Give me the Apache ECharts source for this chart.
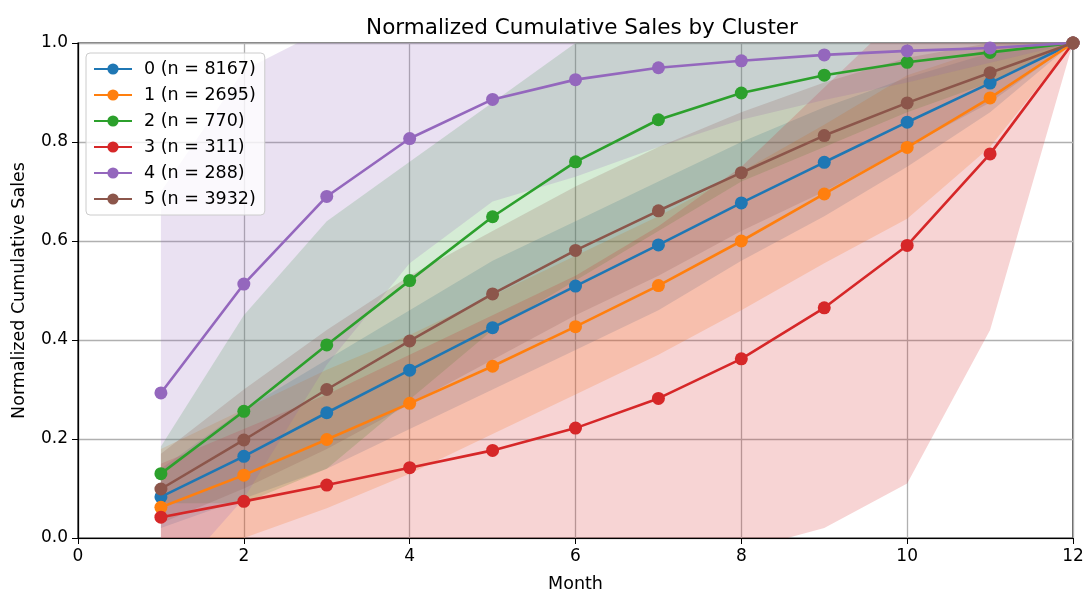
<!DOCTYPE html>
<html><head><meta charset="utf-8">
<script src="https://cdn.jsdelivr.net/npm/echarts@6/dist/echarts.min.js"></script>
<style>html,body{margin:0;padding:0;background:#fff}#c{width:1087px;height:593px}</style>
</head><body><div id="c"></div>
<script>
// ---- data ----
const months = [1,2,3,4,5,6,7,8,9,10,11,12];
const xTicks = [0,2,4,6,8,10,12];
const yTicks = ['0.0','0.2','0.4','0.6','0.8','1.0'];
const clusterNames = ['0 (n = 8167)','1 (n = 2695)','2 (n = 770)','3 (n = 311)','4 (n = 288)','5 (n = 3932)'];
const colors = ['#1f77b4','#ff7f0e','#2ca02c','#d62728','#9467bd','#8c564b'];

const mean0 = [0.083,0.165,0.253,0.339,0.425,0.509,0.592,0.677,0.759,0.840,0.919,1.0];
const mean1 = [0.062,0.127,0.199,0.272,0.347,0.427,0.510,0.600,0.695,0.789,0.889,1.0];
const mean2 = [0.130,0.256,0.390,0.520,0.649,0.760,0.845,0.899,0.935,0.961,0.981,1.0];
const mean3 = [0.042,0.074,0.107,0.142,0.177,0.222,0.282,0.362,0.465,0.591,0.776,1.0];
const mean4 = [0.293,0.513,0.690,0.807,0.886,0.926,0.950,0.964,0.976,0.984,0.990,1.0];
const mean5 = [0.099,0.198,0.300,0.398,0.493,0.581,0.661,0.738,0.813,0.879,0.940,1.0];

const lo0 = [0.02,0.08,0.14,0.22,0.30,0.38,0.46,0.56,0.65,0.75,0.86,1.0];
const hi0 = [0.14,0.26,0.36,0.46,0.56,0.64,0.72,0.80,0.87,0.93,0.98,1.0];
const lo1 = [-0.06,0.0,0.06,0.13,0.21,0.29,0.37,0.46,0.555,0.645,0.79,1.0];
const hi1 = [0.18,0.26,0.34,0.41,0.49,0.57,0.65,0.74,0.835,0.935,0.99,1.0];
const lo2 = [0.07,0.07,0.14,0.28,0.42,0.52,0.62,0.72,0.79,0.86,0.92,1.0];
const hi2 = [0.185,0.45,0.64,0.76,0.88,1.0,1.07,1.08,1.08,1.06,1.04,1.0];
const lo3 = [-0.06,-0.07,-0.08,-0.08,-0.09,-0.08,-0.07,-0.025,0.02,0.11,0.42,1.0];
const hi3 = [0.15,0.22,0.29,0.37,0.45,0.53,0.63,0.75,0.91,1.07,1.13,1.0];
const lo4 = [-0.11,0.08,0.35,0.555,0.68,0.73,0.79,0.845,0.885,0.92,0.96,1.0];
const hi4 = [0.70,0.945,1.03,1.06,1.09,1.12,1.11,1.08,1.065,1.05,1.02,1.0];
const lo5 = [0.03,0.10,0.18,0.27,0.36,0.45,0.53,0.62,0.70,0.79,0.88,1.0];
const hi5 = [0.17,0.30,0.42,0.53,0.62,0.71,0.79,0.86,0.92,0.97,1.0,1.0];

const means = [mean0,mean1,mean2,mean3,mean4,mean5];
const lows = [lo0,lo1,lo2,lo3,lo4,lo5];
const highs = [hi0,hi1,hi2,hi3,hi4,hi5];

function rgba(hex,a){
  const r=parseInt(hex.slice(1,3),16),g=parseInt(hex.slice(3,5),16),b=parseInt(hex.slice(5,7),16);
  return 'rgba('+r+','+g+','+b+','+a+')';
}
const FONT = 'DejaVu Sans';

function bandSeries(lo, hi, color, k){
  return {
    type:'custom', name:'band'+k, z:1, silent:true, clip:true,
    data: months.map((m,i)=>[m, lo[i], hi[i]]),
    encode:{x:0, y:[1,2]},
    renderItem:(params, api)=>{
      if(params.dataIndex!==0) return null;
      const pts=[];
      for(let i=0;i<months.length;i++) pts.push(api.coord([months[i], hi[i]]));
      for(let i=months.length-1;i>=0;i--) pts.push(api.coord([months[i], lo[i]]));
      const cs=params.coordSys;
      return {type:'polygon', shape:{points:pts}, style:{fill:rgba(color,0.2), stroke:null},
        clipPath:{type:'rect', shape:{x:cs.x,y:cs.y,width:cs.width,height:cs.height}}};
    }
  };
}

const series = [];
for(let k=0;k<6;k++) series.push(bandSeries(lows[k], highs[k], colors[k], k));
for(let k=0;k<6;k++) series.push({
  type:'line', name:clusterNames[k], z:3, clip:false,
  data: months.map((m,i)=>[m, means[k][i]]),
  symbol:'circle', symbolSize:13, showSymbol:true,
  lineStyle:{width:2.6, color:colors[k]},
  itemStyle:{color:colors[k]},
  emphasis:{disabled:true}
});

const chart = echarts.init(document.getElementById('c'), null, {renderer:'canvas'});
chart.setOption({
  animation:false,
  backgroundColor:'#ffffff',
  title:{text:'Normalized Cumulative Sales by Cluster', left:577, top:12, textAlign:'center',
    textStyle:{fontFamily:FONT, fontSize:21.5, fontWeight:'normal', color:'#000'}},
  legend:{
    data: clusterNames, orient:'vertical', left:86, top:53,
    itemWidth:38, itemHeight:14, itemGap:8,
    padding:[7,9,7,7],
    backgroundColor:'rgba(255,255,255,0.8)', borderColor:'#cccccc', borderWidth:1, borderRadius:4,
    textStyle:{fontFamily:FONT, fontSize:17.5, color:'#000', padding:[0,0,0,7]}
  },
  grid:{left:78, top:43, width:995, height:495, show:true, borderColor:'#000', borderWidth:1.2,
    backgroundColor:'transparent', containLabel:false, outerBoundsMode:'none'},
  xAxis:{type:'value', min:0, max:12, interval:2,
    name:'Month', nameLocation:'middle', nameGap:37,
    nameTextStyle:{fontFamily:FONT, fontSize:17.5, color:'#000'},
    axisLine:{show:true, lineStyle:{color:'#000', width:1.2}},
    axisTick:{show:true, length:6, lineStyle:{color:'#000'}},
    axisLabel:{fontFamily:FONT, fontSize:17, color:'#000', margin:10,
      formatter:(v)=> xTicks.includes(v) ? String(v) : ''},
    splitLine:{show:true, lineStyle:{color:'#b0b0b0', width:1.3}}
  },
  yAxis:{type:'value', min:0, max:1, interval:0.2,
    name:'Normalized Cumulative Sales', nameLocation:'middle', nameGap:50,
    nameTextStyle:{fontFamily:FONT, fontSize:17.5, color:'#000'},
    axisLine:{show:true, lineStyle:{color:'#000', width:1.2}},
    axisTick:{show:true, length:6, lineStyle:{color:'#000'}},
    axisLabel:{fontFamily:FONT, fontSize:17, color:'#000', margin:10,
      formatter:(v)=> yTicks[Math.round(v/0.2)]},
    splitLine:{show:true, lineStyle:{color:'#b0b0b0', width:1.3}}
  },
  series: series
});
</script>
</body></html>
